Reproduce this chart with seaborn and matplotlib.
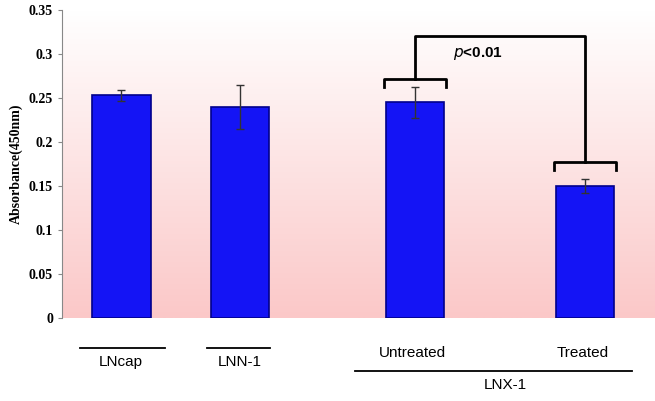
import numpy as np
import pandas as pd
import matplotlib
matplotlib.use("Agg")
from matplotlib import pyplot as plt
from matplotlib.lines import Line2D
import seaborn as sns

groups = ["LNcap", "LNN-1", "Untreated", "Treated"]
absorbance = [0.253, 0.240, 0.245, 0.150]
errors = [0.006, 0.025, 0.018, 0.008]
positions = [0.0, 1.0, 2.47, 3.9]
yticks = [0, 0.05, 0.1, 0.15, 0.2, 0.25, 0.3, 0.35]
ytick_labels = ["0", "0.05", "0.1", "0.15", "0.2", "0.25", "0.3", "0.35"]

df = pd.DataFrame({"pos": positions, "val": absorbance})

fig = plt.figure(figsize=(6.55, 4.01), dpi=100)
ax = fig.add_axes([62 / 655, 83 / 401, 593 / 655, 308 / 401])

# pink gradient background
grad = np.linspace(0, 1, 256).reshape(-1, 1)
cmap = matplotlib.colors.LinearSegmentedColormap.from_list("pk", ["#fbc8c8", "#ffffff"])
ax.imshow(grad, aspect="auto", cmap=cmap, origin="lower",
          extent=[-0.5, 4.49, 0, 0.35], zorder=0)

sns.barplot(data=df, x="pos", y="val", native_scale=True, width=0.49, saturation=1,
            color="#1414f5", edgecolor="#00008b", linewidth=1.2, ax=ax, zorder=2)
ax.errorbar(positions, absorbance, yerr=errors, fmt="none", ecolor="#333333",
            elinewidth=1, capsize=3, zorder=3)

ax.set_xlim(-0.5, 4.49)
ax.set_ylim(0, 0.35)
ax.set_yticks(yticks)
ax.set_yticklabels(ytick_labels, fontfamily="Liberation Serif", fontweight="bold", fontsize=10)
ax.set_xticks([])
ax.set_xlabel("")
ax.set_ylabel("Absorbance(450nm)", fontfamily="Liberation Serif", fontweight="bold", fontsize=10)
for s in ["top", "right", "bottom"]:
    ax.spines[s].set_visible(False)
ax.spines["left"].set_color("#888888")
ax.tick_params(axis="y", length=3, color="#888888")

# significance bracket
kw = dict(color="black", lw=2, zorder=4)
hw = 0.26
ax.plot([positions[2] - hw, positions[2] - hw, positions[2] + hw, positions[2] + hw],
        [0.263, 0.272, 0.272, 0.263], **kw)
ax.plot([positions[3] - hw, positions[3] - hw, positions[3] + hw, positions[3] + hw],
        [0.168, 0.177, 0.177, 0.168], **kw)
ax.plot([positions[2], positions[2], positions[3], positions[3]],
        [0.272, 0.32, 0.32, 0.177], **kw)
ax.text(3.0, 0.3, r"$\bf{\it{p}}$<0.01", fontsize=11, fontweight="bold",
        fontfamily="Liberation Sans", ha="center", va="center")

# group labels below
def hline(x0, x1, y):
    fig.add_artist(Line2D([x0 / 655, x1 / 655], [1 - y / 401, 1 - y / 401], color="black", lw=1.3))

def label(x, y, s):
    fig.text(x / 655, 1 - y / 401, s, ha="center", va="center", fontsize=11,
             fontfamily="Liberation Sans")

hline(80, 165, 348)
hline(207, 270, 348)
hline(355, 632, 371)
label(121, 362, "LNcap")
label(240, 362, "LNN-1")
label(412, 353, "Untreated")
label(583, 353, "Treated")
label(505, 385, "LNX-1")

fig.savefig("out.png", dpi=100)
